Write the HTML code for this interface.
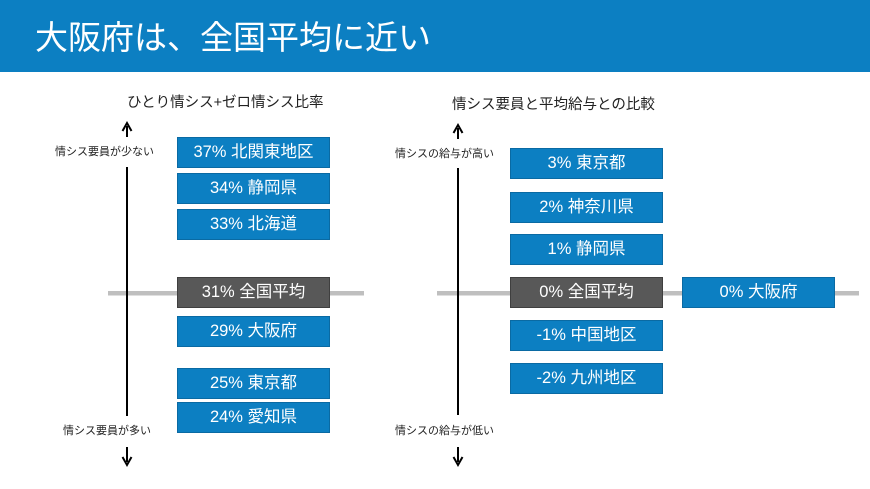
<!DOCTYPE html>
<html><head><meta charset="utf-8"><style>
html,body{margin:0;padding:0;background:#fff;}
body{width:870px;height:489px;position:relative;overflow:hidden;font-family:"Liberation Sans","Noto Sans CJK JP",sans-serif;}
.hdr{position:absolute;left:0;top:0;width:870px;height:72px;background:#0c7fc2;}
.ttl{position:absolute;left:35px;top:16px;font-size:33px;color:#fff;line-height:44px;white-space:nowrap;}
.box{position:absolute;width:151px;height:29px;background:#0c7fc2;border:1px solid #0a6aa3;color:#fff;font-size:16.5px;line-height:29px;text-align:center;white-space:nowrap;}
.g{background:#585858;border-color:#3f3f3f;}
.t{position:absolute;font-size:14.5px;color:#222;white-space:nowrap;line-height:18px;}
.l{position:absolute;font-size:11px;color:#222;white-space:nowrap;line-height:14px;background:#fff;}
svg{position:absolute;left:0;top:0;}
</style></head><body>
<div class="hdr"></div>
<div class="ttl">大阪府は、全国平均に近い</div>

<svg width="870" height="489">
  <!-- gray baselines -->
  <rect x="108" y="291" width="256" height="4.5" fill="#bfbfbf"/>
  <rect x="437" y="291" width="422" height="4.5" fill="#bfbfbf"/>
  <!-- left axis -->
  <line x1="127" y1="126" x2="127" y2="137" stroke="#000" stroke-width="2"/>
  <path d="M122.5 131 L127 123 L131.5 131" fill="none" stroke="#000" stroke-width="2"/>
  <line x1="127" y1="167" x2="127" y2="416" stroke="#000" stroke-width="2"/>
  <line x1="127" y1="447" x2="127" y2="462" stroke="#000" stroke-width="2"/>
  <path d="M122.5 457 L127 465 L131.5 457" fill="none" stroke="#000" stroke-width="2"/>
  <!-- right axis -->
  <line x1="458" y1="128" x2="458" y2="139" stroke="#000" stroke-width="2"/>
  <path d="M453.5 133 L458 125 L462.5 133" fill="none" stroke="#000" stroke-width="2"/>
  <line x1="458" y1="168" x2="458" y2="415" stroke="#000" stroke-width="2"/>
  <line x1="458" y1="447" x2="458" y2="462" stroke="#000" stroke-width="2"/>
  <path d="M453.5 457 L458 465 L462.5 457" fill="none" stroke="#000" stroke-width="2"/>
</svg>

<div class="t" style="left:127px;top:94px;">ひとり情シス+ゼロ情シス比率</div>
<div class="t" style="left:452px;top:96px;">情シス要員と平均給与との比較</div>

<div class="l" style="left:55px;top:145px;">情シス要員が少ない</div>
<div class="l" style="left:63px;top:424px;">情シス要員が多い</div>
<div class="l" style="left:395px;top:147px;">情シスの給与が高い</div>
<div class="l" style="left:395px;top:424px;">情シスの給与が低い</div>

<!-- left boxes -->
<div class="box" style="left:177px;top:137px;">37% 北関東地区</div>
<div class="box" style="left:177px;top:173px;">34% 静岡県</div>
<div class="box" style="left:177px;top:209px;">33% 北海道</div>
<div class="box g" style="left:177px;top:277px;">31% 全国平均</div>
<div class="box" style="left:177px;top:316px;">29% 大阪府</div>
<div class="box" style="left:177px;top:368px;">25% 東京都</div>
<div class="box" style="left:177px;top:402px;">24% 愛知県</div>

<!-- right boxes -->
<div class="box" style="left:510px;top:148px;">3% 東京都</div>
<div class="box" style="left:510px;top:192px;">2% 神奈川県</div>
<div class="box" style="left:510px;top:234px;">1% 静岡県</div>
<div class="box g" style="left:510px;top:277px;">0% 全国平均</div>
<div class="box" style="left:682px;top:277px;">0% 大阪府</div>
<div class="box" style="left:510px;top:320px;">-1% 中国地区</div>
<div class="box" style="left:510px;top:363px;">-2% 九州地区</div>
</body></html>
